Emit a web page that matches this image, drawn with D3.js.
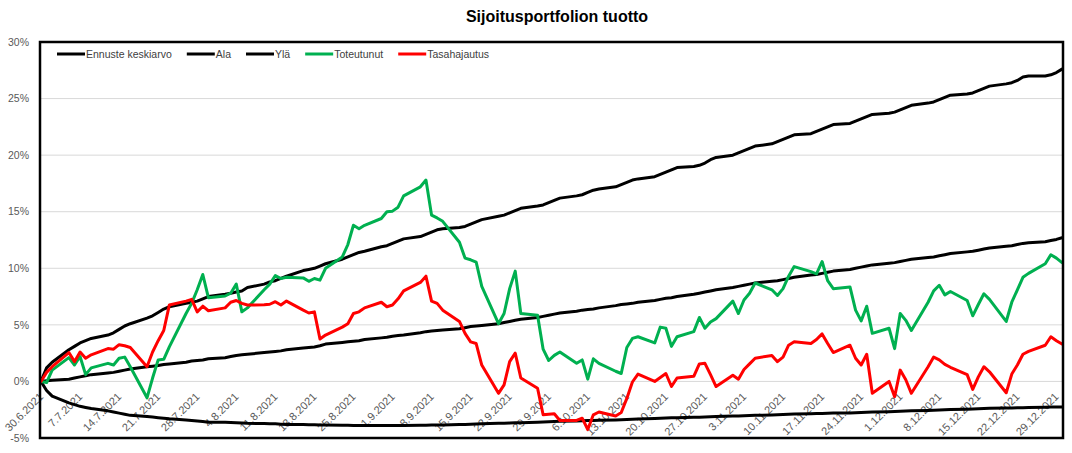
<!DOCTYPE html>
<html><head><meta charset="utf-8">
<script src="https://cdn.jsdelivr.net/npm/d3@7"></script>
<style>body{margin:0;background:#fff} svg{display:block}</style>
</head><body><svg id="c" width="1072" height="453"></svg>
<script>
const title = "Sijoitusportfolion tuotto";
const seriesNames = ["Ennuste keskiarvo", "Ala", "Ylä", "Toteutunut", "Tasahajautus"];
const seriesColors = ["#000000", "#000000", "#000000", "#00B050", "#FF0000"];
const startDate = "30.6.2021", endDate = "30.12.2021";
const tickLabels = ["30.6.2021","7.7.2021","14.7.2021","21.7.2021","28.7.2021","4.8.2021","11.8.2021","18.8.2021","25.8.2021","1.9.2021","8.9.2021","15.9.2021","22.9.2021","29.9.2021","6.10.2021","13.10.2021","20.10.2021","27.10.2021","3.11.2021","10.11.2021","17.11.2021","24.11.2021","1.12.2021","8.12.2021","15.12.2021","22.12.2021","29.12.2021"];
const yTicks = [-5, 0, 5, 10, 15, 20, 25, 30];

// values in %, one per trading day (weekdays), week by week
const ennuste = [0,0.05,0.1,
 0.2,0.3,0.4,0.5,0.6, 0.75,0.8,0.9,1.0,1.1, 1.3,1.35,1.4,1.5,1.55, 1.7,1.8,1.85,1.9,2.0,
 2.1,2.2,2.3,2.35,2.4, 2.55,2.6,2.65,2.7,2.8, 2.95,3.0,3.05,3.15,3.3, 3.45,3.5,3.55,3.6,3.7,
 3.85,3.9,4.0,4.05,4.1, 4.3,4.4,4.45,4.5,4.55, 4.65,4.75,4.85,4.9,4.95, 5.1,5.2,5.3,5.4,5.5,
 5.65,5.75,5.85,5.95,6.05, 6.2,6.3,6.35,6.4,6.5, 6.7,6.8,6.85,6.9,7.0, 7.15,7.25,7.35,7.4,7.5,
 7.7,7.8,7.9,8.0,8.1, 8.3,8.4,8.5,8.6,8.7, 8.85,8.9,9.0,9.1,9.2, 9.4,9.45,9.55,9.65,9.75,
 9.9,10.0,10.1,10.2,10.3, 10.45,10.5,10.6,10.7,10.8, 10.95,11.0,11.1,11.2,11.3, 11.45,11.5,11.6,11.7,11.8,
 11.95,12.0,12.1,12.2,12.25, 12.35,12.45,12.55,12.7];
const ala = [0,-0.8,-1.3,
 -1.9,-2.05,-2.2,-2.3,-2.4, -2.6,-2.7,-2.8,-2.9,-3.0, -3.1,-3.15,-3.2,-3.25,-3.3, -3.4,-3.45,-3.5,-3.55,-3.6,
 -3.6,-3.62,-3.65,-3.68,-3.7, -3.72,-3.75,-3.75,-3.78,-3.8, -3.8,-3.82,-3.82,-3.85,-3.85, -3.87,-3.88,-3.9,-3.9,-3.9,
 -3.9,-3.9,-3.9,-3.9,-3.9, -3.88,-3.88,-3.86,-3.85,-3.85, -3.8,-3.8,-3.78,-3.76,-3.75, -3.7,-3.7,-3.68,-3.66,-3.65,
 -3.6,-3.58,-3.56,-3.55,-3.53, -3.5,-3.48,-3.46,-3.45,-3.43, -3.4,-3.38,-3.36,-3.34,-3.32, -3.28,-3.26,-3.24,-3.22,-3.2,
 -3.17,-3.16,-3.15,-3.13,-3.1, -3.06,-3.05,-3.03,-3.01,-3.0, -2.97,-2.95,-2.93,-2.9,-2.88, -2.85,-2.84,-2.83,-2.81,-2.8,
 -2.78,-2.76,-2.74,-2.72,-2.7, -2.67,-2.65,-2.63,-2.61,-2.6, -2.56,-2.54,-2.52,-2.5,-2.48, -2.45,-2.43,-2.42,-2.4,-2.38,
 -2.35,-2.34,-2.33,-2.32,-2.3, -2.28,-2.27,-2.26,-2.25];
const yla = [0,1.2,1.7,
 2.8,3.1,3.4,3.6,3.8, 4.1,4.3,4.6,4.9,5.1, 5.6,5.8,6.1,6.4,6.6, 6.9,7.0,7.1,7.3,7.5,
 7.7,7.8,7.9,8.0,8.3, 8.6,8.8,8.9,9.1,9.3, 9.8,9.9,10.0,10.2,10.4, 10.8,11.0,11.2,11.4,11.5,
 11.9,12.0,12.2,12.4,12.6, 12.8,13.0,13.2,13.4,13.5, 13.6,13.7,13.9,14.1,14.3, 14.6,14.7,14.9,15.1,15.3,
 15.5,15.6,15.8,16.0,16.2, 16.4,16.5,16.7,16.9,17.0, 17.2,17.4,17.6,17.8,17.9, 18.1,18.3,18.5,18.7,18.9,
 19.0,19.1,19.3,19.6,19.8, 20.0,20.2,20.4,20.6,20.8, 21.0,21.2,21.4,21.6,21.8, 21.9,22.1,22.3,22.5,22.7,
 22.8,23.0,23.2,23.4,23.6, 23.7,23.8,24.0,24.2,24.4, 24.6,24.7,24.9,25.1,25.3, 25.4,25.5,25.7,25.9,26.1,
 26.3,26.4,26.6,26.9,27.0, 27.0,27.1,27.3,27.6];
const toteutunut = [0,-0.1,1.0,
 2.1,1.45,2.2,0.6,1.2, 1.6,1.45,2.05,2.15,1.3, -1.45,0.3,1.9,1.95,3.05, 6.0,6.9,8.1,9.45,7.4,
 7.55,7.8,8.6,6.15,6.5, 8.1,8.6,9.35,9.1,9.2, 9.15,8.85,9.1,8.95,10.0, 11.0,12.1,13.8,13.5,13.8,
 14.4,15.0,15.05,15.4,16.4, 17.2,17.8,14.7,14.45,14.15, 12.3,10.9,10.75,10.55,8.4, 5.1,6.0,8.2,9.75,6.0,
 5.85,2.85,1.85,2.3,2.6, 1.6,1.9,0.2,2.0,1.6, 0.9,0.7,3.0,3.8,3.95, 3.4,4.8,4.7,3.1,3.95,
 4.4,5.65,4.7,5.25,5.55, 7.1,6.0,7.2,7.8,8.7, 8.1,7.6,8.2,9.3,10.15, 9.7,9.5,10.6,8.9,8.2,
 8.35,6.3,5.35,6.65,4.25, 4.7,2.9,6.0,5.4,4.5, 7.0,8.0,8.5,7.65,7.95, 7.15,5.8,6.8,7.75,7.25,
 5.3,7.0,8.1,9.2,9.55, 10.4,11.2,10.9,10.5];
const tasahajautus = [0,0.8,1.3,
 2.55,1.75,2.6,2.05,2.35, 2.9,2.85,3.25,3.15,3.0, 1.3,2.6,3.6,4.5,6.75, 7.1,7.25,6.15,6.65,6.25,
 6.5,7.0,7.15,6.9,6.75, 6.78,6.82,7.05,6.75,7.1, 6.3,6.05,6.15,3.75,4.1, 4.8,5.1,6.0,6.15,6.5,
 7.0,6.6,6.75,7.3,8.0, 8.75,9.3,7.1,6.9,6.3, 5.3,4.25,3.5,3.35,1.45, -1.05,-0.3,1.75,2.5,0.3,
 -0.6,-2.95,-2.9,-2.85,-3.45, -3.45,-3.25,-4.25,-2.95,-2.7, -3.05,-2.75,-1.5,-0.05,0.65, 0.0,0.35,0.7,-0.45,0.3,
 0.45,1.55,1.6,0.6,-0.45, 0.55,0.2,1.05,1.55,2.05, 2.3,1.75,2.15,3.2,3.5, 3.35,3.7,4.2,3.35,2.55,
 3.2,2.05,1.45,2.4,-1.05, 0.0,-1.35,1.0,0.15,-1.05, 1.3,2.15,1.9,1.5,1.25, 0.6,-0.7,0.4,1.3,0.85,
 -1.0,0.65,1.45,2.4,2.65, 3.2,3.95,3.6,3.3];

const seriesValues = [ennuste, ala, yla, toteutunut, tasahajautus];

const parse = d3.timeParse("%d.%m.%Y");
const t0 = parse(startDate), t1 = parse(endDate);
const dates = d3.timeDay.range(t0, d3.timeDay.offset(t1, 1)).filter(d => d.getDay() !== 0 && d.getDay() !== 6);

const svg = d3.select("#c");
const L = 40, R = 1063, T = 42, B = 438;
const x = d3.scaleTime().domain([t0, t1]).range([41, 1062]);
const y = d3.scaleLinear().domain([-5, 30]).range([B, T]);
const font = "'Liberation Sans', Arial, sans-serif";

svg.append("rect").attr("width", 1072).attr("height", 453).attr("fill", "#fff");

// title
svg.append("text").attr("x", 557).attr("y", 22).attr("text-anchor", "middle")
  .attr("font-family", font).attr("font-weight", "bold").attr("font-size", 16).attr("fill", "#000").text(title);

// gridlines
svg.append("g").selectAll("line").data(yTicks).join("line")
  .attr("x1", L).attr("x2", R).attr("y1", d => y(d)).attr("y2", d => y(d))
  .attr("stroke", "#d9d9d9").attr("stroke-width", 1);

// y axis labels
svg.append("g").selectAll("text").data(yTicks).join("text")
  .attr("x", 29).attr("y", d => y(d)).attr("dy", "0.35em").attr("text-anchor", "end")
  .attr("font-family", font).attr("font-size", 10.5).attr("fill", "#595959")
  .text(d => d + "%");

// x axis labels (rotated, next to 0% axis)
svg.append("g").selectAll("text").data(tickLabels).join("text")
  .attr("text-anchor", "end")
  .attr("transform", d => `translate(${x(parse(d)) + 3},${y(0) + 16}) rotate(-45)`)
  .attr("font-family", font).attr("font-size", 11).attr("fill", "#595959")
  .text(d => d);

// lines
const line = d3.line().x((v, i) => x(dates[i])).y(v => y(v));
seriesValues.forEach((vals, k) => {
  svg.append("path").datum(vals.slice(0, dates.length))
    .attr("d", line).attr("fill", "none").attr("stroke", seriesColors[k])
    .attr("stroke-width", 3).attr("stroke-linejoin", "round").attr("stroke-linecap", "round");
});

// plot border
svg.append("rect").attr("x", L).attr("y", T).attr("width", R - L).attr("height", B - T)
  .attr("fill", "none").attr("stroke", "#000").attr("stroke-width", 2.5);

// legend
let lx = 57;
const ly = 54;
seriesNames.forEach((name, k) => {
  svg.append("line").attr("x1", lx).attr("x2", lx + 28).attr("y1", ly).attr("y2", ly)
    .attr("stroke", seriesColors[k]).attr("stroke-width", 3);
  const t = svg.append("text").attr("x", lx + 29).attr("y", ly).attr("dy", "0.35em")
    .attr("font-family", font).attr("font-size", 10.5).attr("fill", "#404040").text(name);
  lx += 29 + t.node().getComputedTextLength() + 15;
});
</script></body></html>
